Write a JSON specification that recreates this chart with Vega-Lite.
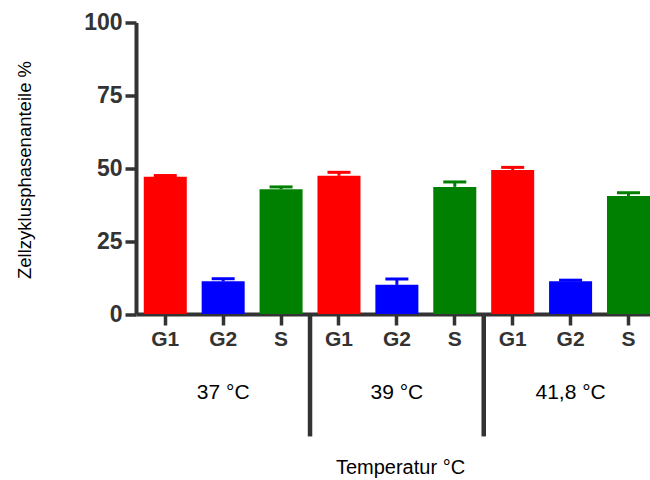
{
  "$schema": "https://vega.github.io/schema/vega-lite/v6.json",
  "autosize": "none",
  "width": 514,
  "height": 291.5,
  "padding": {"left": 136, "top": 22.5, "right": 0, "bottom": 166},
  "background": "white",
  "config": {
    "view": {"stroke": null},
    "font": "Liberation Sans"
  },
  "datasets": {
    "phases": [
      {"temp": "37 °C", "phase": "G1", "mean": 47.1, "sem": 0.4},
      {"temp": "37 °C", "phase": "G2", "mean": 11.2, "sem": 0.9},
      {"temp": "37 °C", "phase": "S", "mean": 42.8, "sem": 0.8},
      {"temp": "39 °C", "phase": "G1", "mean": 47.4, "sem": 1.2},
      {"temp": "39 °C", "phase": "G2", "mean": 10.0, "sem": 2.0},
      {"temp": "39 °C", "phase": "S", "mean": 43.6, "sem": 1.7},
      {"temp": "41,8 °C", "phase": "G1", "mean": 49.4, "sem": 0.9},
      {"temp": "41,8 °C", "phase": "G2", "mean": 11.2, "sem": 0.4},
      {"temp": "41,8 °C", "phase": "S", "mean": 40.5, "sem": 1.1}
    ],
    "groups": [
      {"temp": "37 °C", "first": "37 °C|G1", "middle": "37 °C|G2", "from": 0, "to": -42, "labelAt": -27},
      {"temp": "39 °C", "first": "39 °C|G1", "middle": "39 °C|G2", "from": 0, "to": -42, "labelAt": -27},
      {"temp": "41,8 °C", "first": "41,8 °C|G1", "middle": "41,8 °C|G2", "from": 0, "to": -42, "labelAt": -27}
    ]
  },
  "layer": [
    {
      "data": {"name": "phases"},
      "transform": [
        {"calculate": "datum.temp + '|' + datum.phase", "as": "key"},
        {"calculate": "datum.mean + datum.sem", "as": "upper"}
      ],
      "layer": [
        {
          "mark": {"type": "bar"},
          "encoding": {
            "x": {
              "field": "key",
              "type": "nominal",
              "sort": null,
              "scale": {"paddingInner": 0.257, "paddingOuter": 0.067, "align": 1},
              "axis": {
                "title": "Temperatur °C",
                "titleFont": "Liberation Sans",
                "titleFontSize": 20,
                "titleFontWeight": "normal",
                "titleColor": "#000000",
                "titleX": 264,
                "titleY": 159,
                "titleBaseline": "alphabetic",
                "labelExpr": "split(datum.value, '|')[1]",
                "labelAngle": 0,
                "labelFontSize": 21,
                "labelFontWeight": "bold",
                "labelColor": "#333333",
                "labelPadding": 3,
                "domainColor": "#333333",
                "domainWidth": 4,
                "tickColor": "#333333",
                "tickWidth": 3.5,
                "tickSize": 11
              }
            },
            "y": {
              "field": "mean",
              "type": "quantitative",
              "scale": {"domain": [0, 100], "nice": false},
              "axis": {
                "title": "Zellzyklusphasenanteile %",
                "titleFont": "Liberation Sans",
                "titleFontSize": 18.5,
                "titleFontWeight": "normal",
                "titleColor": "#000000",
                "titleX": -112,
                "titleY": 147,
                "titleBaseline": "middle",
                "values": [0, 25, 50, 75, 100],
                "grid": false,
                "labelFontSize": 23,
                "labelFontWeight": "bold",
                "labelColor": "#333333",
                "labelPadding": 3,
                "domainColor": "#333333",
                "domainWidth": 4,
                "tickColor": "#333333",
                "tickWidth": 3.5,
                "tickSize": 11
              }
            },
            "color": {
              "field": "phase",
              "type": "nominal",
              "scale": {"domain": ["G1", "G2", "S"], "range": ["#ff0000", "#0000ff", "#008000"]},
              "legend": null
            }
          }
        },
        {
          "mark": {"type": "rule", "strokeWidth": 3},
          "encoding": {
            "x": {"field": "key", "type": "nominal", "sort": null},
            "y": {"field": "mean", "type": "quantitative"},
            "y2": {"field": "upper"},
            "color": {"field": "phase", "type": "nominal", "legend": null}
          }
        },
        {
          "mark": {"type": "tick", "size": 23, "thickness": 3, "opacity": 1},
          "encoding": {
            "x": {"field": "key", "type": "nominal", "sort": null},
            "y": {"field": "upper", "type": "quantitative"},
            "color": {"field": "phase", "type": "nominal", "legend": null}
          }
        }
      ]
    },
    {
      "data": {"name": "groups"},
      "transform": [{"filter": "datum.temp != '37 °C'"}],
      "mark": {"type": "rule", "strokeWidth": 4.5, "color": "#333333"},
      "encoding": {
        "x": {"field": "first", "type": "nominal", "bandPosition": -0.173},
        "y": {"field": "from", "type": "quantitative"},
        "y2": {"field": "to"}
      }
    },
    {
      "data": {"name": "groups"},
      "mark": {"type": "text", "fontSize": 21, "color": "#000000", "baseline": "middle", "align": "center"},
      "encoding": {
        "x": {"field": "middle", "type": "nominal"},
        "y": {"field": "labelAt", "type": "quantitative"},
        "text": {"field": "temp"}
      }
    }
  ]
}
